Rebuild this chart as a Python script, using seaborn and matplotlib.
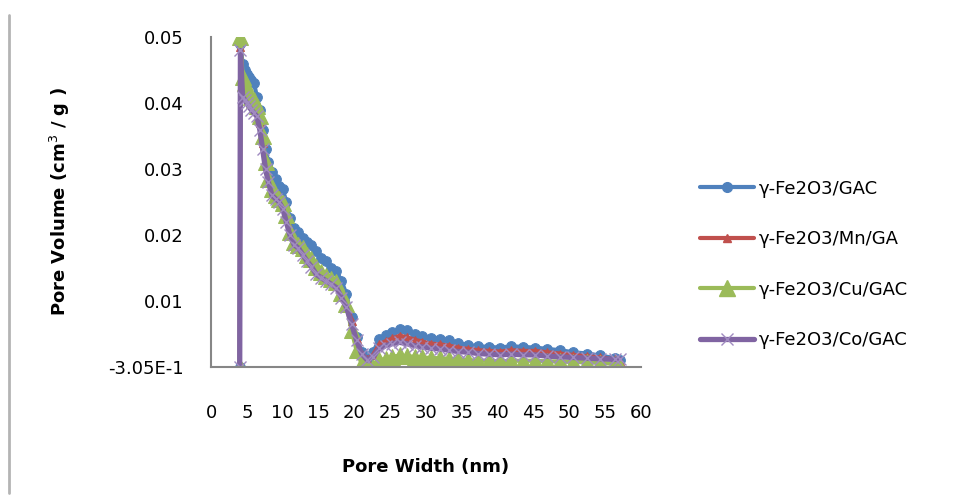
import matplotlib
matplotlib.use("Agg")
import matplotlib.pyplot as plt
import seaborn as sns
import pandas as pd
from matplotlib.lines import Line2D

sns.set_style("white")
plt.rcParams['font.family'] = ['DejaVu Sans']
plt.rcParams['text.color'] = 'black'
plt.rcParams['axes.labelcolor'] = 'black'

pore_width = [4.0, 4.1, 4.4, 4.7, 5.0, 5.3, 5.6, 6.0, 6.4, 6.8, 7.2, 7.6, 8.0, 8.5, 9.0,
              9.5, 10.0, 10.5, 11.0, 11.6, 12.2, 12.8, 13.4, 14.0, 14.7, 15.4, 16.1, 16.8,
              17.5, 18.2, 18.9, 19.6, 20.3, 21.0, 21.8, 22.6, 23.5, 24.4, 25.3, 26.3, 27.3,
              28.4, 29.5, 30.7, 31.9, 33.2, 34.5, 35.9, 37.3, 38.8, 40.3, 41.9, 43.5, 45.2,
              46.9, 48.7, 50.5, 52.4, 54.3, 56.3, 57.0]

gac = [0.0, 0.049, 0.046, 0.045, 0.0445, 0.044, 0.0435, 0.043, 0.041, 0.039, 0.036,
       0.033, 0.031, 0.0295, 0.0285, 0.0275, 0.027, 0.025, 0.0225, 0.021, 0.0205, 0.0195,
       0.019, 0.0185, 0.0175, 0.0165, 0.016, 0.015, 0.0145, 0.013, 0.011, 0.0075, 0.0045,
       0.0022, 0.0012, 0.0022, 0.0042, 0.0048, 0.0052, 0.0057, 0.0055, 0.005, 0.0047,
       0.0044, 0.0042, 0.004, 0.0036, 0.0033, 0.0031, 0.003, 0.0029, 0.0031, 0.003, 0.0029,
       0.0027, 0.0025, 0.0022, 0.002, 0.0017, 0.0013, 0.001]

mn = [0.0, 0.0485, 0.043, 0.042, 0.0415, 0.041, 0.0405, 0.04, 0.039, 0.037, 0.034,
      0.031, 0.029, 0.0275, 0.0265, 0.026, 0.025, 0.023, 0.021, 0.0195, 0.019, 0.018,
      0.017, 0.0165, 0.0155, 0.0145, 0.014, 0.0135, 0.013, 0.0115, 0.0098, 0.007, 0.0042,
      0.002, 0.0011, 0.0018, 0.0034, 0.0039, 0.0043, 0.0047, 0.0045, 0.0041, 0.0038,
      0.0035, 0.0034, 0.0032, 0.0029, 0.0027, 0.0025, 0.0024, 0.0023, 0.0025, 0.0024,
      0.0024, 0.0022, 0.002, 0.0018, 0.0016, 0.0014, 0.0011, 0.0009]

cu = [0.0, 0.050, 0.044, 0.043, 0.042, 0.0415, 0.041, 0.0405, 0.0395, 0.038, 0.035,
      0.031, 0.0285, 0.027, 0.026, 0.0255, 0.0248, 0.023, 0.0205, 0.019, 0.0185, 0.018,
      0.017, 0.0163, 0.0152, 0.0143, 0.0138, 0.0133, 0.0128, 0.0112, 0.0095, 0.0055,
      0.0025, 0.0005, 0.0, 0.0, 0.001, 0.0012, 0.0015, 0.0017, 0.0016, 0.0015, 0.0014,
      0.0013, 0.0013, 0.0012, 0.0011, 0.001, 0.0009, 0.0009, 0.0008, 0.0009, 0.0009,
      0.0009, 0.0008, 0.0008, 0.0007, 0.0007, 0.0006, 0.0004, 0.0]

co = [0.0, 0.048, 0.041, 0.0405, 0.040, 0.0395, 0.039, 0.0385, 0.038, 0.036, 0.033,
      0.030, 0.028, 0.026, 0.0255, 0.025, 0.024, 0.022, 0.020, 0.0185, 0.018, 0.017,
      0.016, 0.0152, 0.014, 0.0135, 0.013, 0.0125, 0.012, 0.0105, 0.009, 0.0065, 0.004,
      0.002, 0.001, 0.0015, 0.0028, 0.0032, 0.0035, 0.0037, 0.0035, 0.0032, 0.003,
      0.0028, 0.0027, 0.0025, 0.0023, 0.0022, 0.002, 0.0019, 0.0018, 0.0019, 0.0018,
      0.0018, 0.0016, 0.0015, 0.0014, 0.0013, 0.0012, 0.0011, 0.0012]

labels = ["γ-Fe2O3/GAC", "γ-Fe2O3/Mn/GA", "γ-Fe2O3/Cu/GAC", "γ-Fe2O3/Co/GAC"]
colors = ["#4F81BD", "#C0504D", "#9BBB59", "#8064A2"]
markers = ["o", "^", "^", "x"]
msizes = [7, 6, 12, 9]
lwidths = [3, 3, 3, 3.8]
x_ticks = [0, 5, 10, 15, 20, 25, 30, 35, 40, 45, 50, 55, 60]
y_ticks = [0.0, 0.01, 0.02, 0.03, 0.04, 0.05]
y_ticklabels = ["-3.05E-1", "0.01", "0.02", "0.03", "0.04", "0.05"]

fig = plt.figure(figsize=(9.65, 4.95), dpi=100)
ax = fig.add_axes([0.2187, 0.2592, 0.4456, 0.6654])

handles = []
for ys, lab, c, m, ms, lw in zip([gac, mn, cu, co], labels, colors, markers, msizes, lwidths):
    df = pd.DataFrame({"x": pore_width, "y": ys})
    mkw = dict(marker=m, markersize=ms, color=c, linewidth=lw)
    if m == "x":
        mkw.update(markeredgewidth=1.0, markeredgecolor="#A08BC0")
    else:
        mkw.update(markeredgecolor=c, markerfacecolor=c)
    sns.lineplot(data=df, x="x", y="y", ax=ax, sort=False, estimator=None, **mkw)
    h = Line2D([], [], color=c, linewidth=lw, marker=m,
               markersize=ms, markeredgecolor=(mkw.get("markeredgecolor", c)),
               markerfacecolor=c, markeredgewidth=mkw.get("markeredgewidth", 1.0))
    handles.append(h)

ax.set_xlim(0, 60)
ax.set_ylim(0, 0.05)
ax.set_xticks(x_ticks)
ax.set_xticklabels([str(t) for t in x_ticks], fontsize=13)
ax.set_yticks(y_ticks)
ax.set_yticklabels(y_ticklabels, fontsize=13)
for s in ["top", "right"]:
    ax.spines[s].set_visible(False)
for s in ["left", "bottom"]:
    ax.spines[s].set_color("#868686")
    ax.spines[s].set_linewidth(1.5)
ax.tick_params(axis="both", direction="out", length=7, width=1.5, color="#868686",
               labelcolor="#000000")
ax.tick_params(axis="x", pad=20)
ax.tick_params(axis="y", pad=13)
ax.set_xlabel("Pore Width (nm)", fontsize=13, fontweight="bold", labelpad=26, color="black")
ax.set_ylabel("Pore Volume (cm$^3$ / g )", fontsize=13, fontweight="bold", labelpad=26,
              color="black")

leg = fig.legend(handles, labels, loc="upper left", bbox_to_anchor=(0.709, 0.67),
                 frameon=False, fontsize=13, handlelength=2.95, handletextpad=0.3,
                 labelspacing=1.8)
for t in leg.get_texts():
    t.set_color("black")

fig.add_artist(Line2D([0.0093, 0.0093], [1 - 15 / 495, 1 - 493 / 495],
                      transform=fig.transFigure, color="#B4B4B4", linewidth=2))

fig.savefig("out.png", dpi=100)
